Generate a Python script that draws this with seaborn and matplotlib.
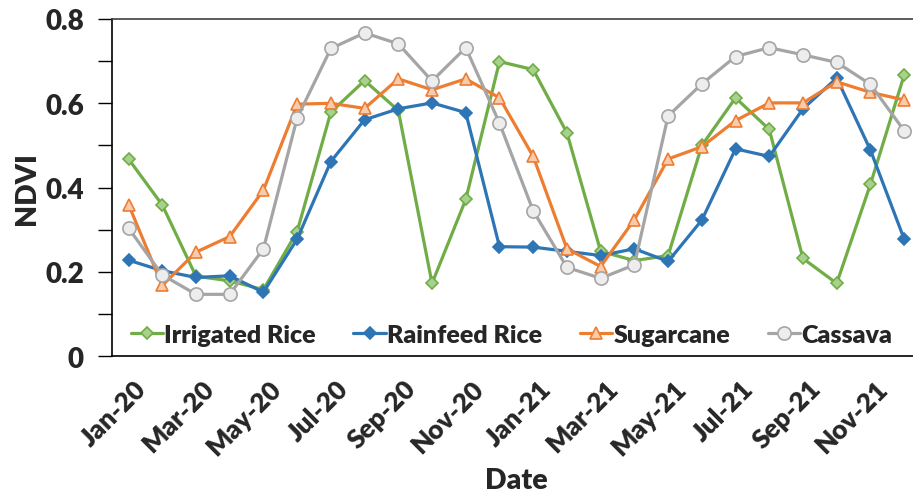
import pandas as pd
import matplotlib.pyplot as plt
import matplotlib.transforms as mtransforms
import seaborn as sns

months = ['Jan-20', 'Feb-20', 'Mar-20', 'Apr-20', 'May-20', 'Jun-20', 'Jul-20', 'Aug-20',
          'Sep-20', 'Oct-20', 'Nov-20', 'Dec-20', 'Jan-21', 'Feb-21', 'Mar-21', 'Apr-21',
          'May-21', 'Jun-21', 'Jul-21', 'Aug-21', 'Sep-21', 'Oct-21', 'Nov-21', 'Dec-21']

irrigated_rice = [0.468, 0.359, 0.19, 0.179, 0.158, 0.296, 0.579, 0.654, 0.583, 0.173, 0.372, 0.699,
                  0.680, 0.530, 0.249, 0.227, 0.239, 0.500, 0.613, 0.538, 0.232, 0.173, 0.408, 0.667]
rainfeed_rice = [0.228, 0.203, 0.187, 0.191, 0.152, 0.278, 0.462, 0.561, 0.587, 0.601, 0.578, 0.260,
                 0.259, 0.249, 0.239, 0.255, 0.225, 0.323, 0.492, 0.474, 0.587, 0.660, 0.489, 0.278]
sugarcane = [0.36, 0.168, 0.247, 0.284, 0.394, 0.598, 0.600, 0.588, 0.658, 0.632, 0.658, 0.613,
             0.474, 0.255, 0.213, 0.324, 0.468, 0.497, 0.559, 0.601, 0.601, 0.651, 0.626, 0.608]
cassava = [0.304, 0.193, 0.147, 0.147, 0.255, 0.565, 0.730, 0.767, 0.741, 0.653, 0.732, 0.553,
           0.345, 0.211, 0.185, 0.217, 0.570, 0.646, 0.711, 0.732, 0.715, 0.697, 0.645, 0.535]

df = pd.DataFrame({'Date': months, 'Irrigated Rice': irrigated_rice, 'Rainfeed Rice': rainfeed_rice,
                   'Sugarcane': sugarcane, 'Cassava': cassava})
df['x'] = range(len(df))

sns.set_style('white')
plt.rcParams['font.family'] = ['Lato', 'DejaVu Sans']
plt.rcParams['font.weight'] = 'heavy'

fig = plt.figure(figsize=(9.13, 5.02), dpi=100)
ax = fig.add_axes([0.1223, 0.2882, 0.8865, 0.672])

# series styles: name, line colour, marker, marker fill, marker size
styles = [
    ('Irrigated Rice', '#70AD47', 'D', '#A9D18E', 6.5),
    ('Rainfeed Rice', '#2E75B6', 'D', '#2E75B6', 6.5),
    ('Sugarcane', '#ED7D31', '^', '#F8CBAD', 9),
    ('Cassava', '#A5A5A5', 'o', '#EDEDED', 9.5),
]
for name, col, mk, fill, ms in styles:
    sns.lineplot(data=df, x='x', y=name, ax=ax, color=col, linewidth=2.3, marker=mk,
                 markersize=ms, markerfacecolor=fill, markeredgecolor=col, markeredgewidth=1.2,
                 label=name)

ax.set_xlim(-0.5, 23.5)
ax.set_ylim(0, 0.8)
ax.set_xticks(range(0, 24, 2))
ax.set_xticklabels(months[::2], rotation=45, ha='right', rotation_mode='anchor',
                   fontsize=19, fontweight='heavy')
ax.set_yticks([0, 0.2, 0.4, 0.6, 0.8])
ax.set_yticklabels(['0', '0.2', '0.4', '0.6', '0.8'], fontsize=20, fontweight='heavy')
ax.set_yticks([0.1, 0.3, 0.5, 0.7], minor=True)
ax.tick_params(axis='y', which='both', direction='out', length=10, width=1, left=True,
               color='black', pad=10)
ax.tick_params(axis='x', length=0, pad=14)
shift = mtransforms.ScaledTranslation(5 / 100, 0, fig.dpi_scale_trans)
for lbl in ax.get_xticklabels():
    lbl.set_transform(lbl.get_transform() + shift)
ax.set_xlabel('Date', fontsize=20.5, fontweight='heavy', labelpad=6)
ax.set_ylabel('NDVI', fontsize=20.5, fontweight='heavy', labelpad=4)

ax.spines['right'].set_visible(False)
ax.spines['left'].set_color('black')
ax.spines['bottom'].set_color('black')
ax.spines['top'].set_color('#404040')
for s in ax.spines.values():
    s.set_linewidth(1.2)

ax.legend(loc='lower center', bbox_to_anchor=(0.494, -0.035), ncol=4, frameon=False,
          prop={'size': 18, 'weight': 'heavy'}, handlelength=1.3, columnspacing=1.5,
          handletextpad=0.05)

plt.savefig('out.png', dpi=100)
